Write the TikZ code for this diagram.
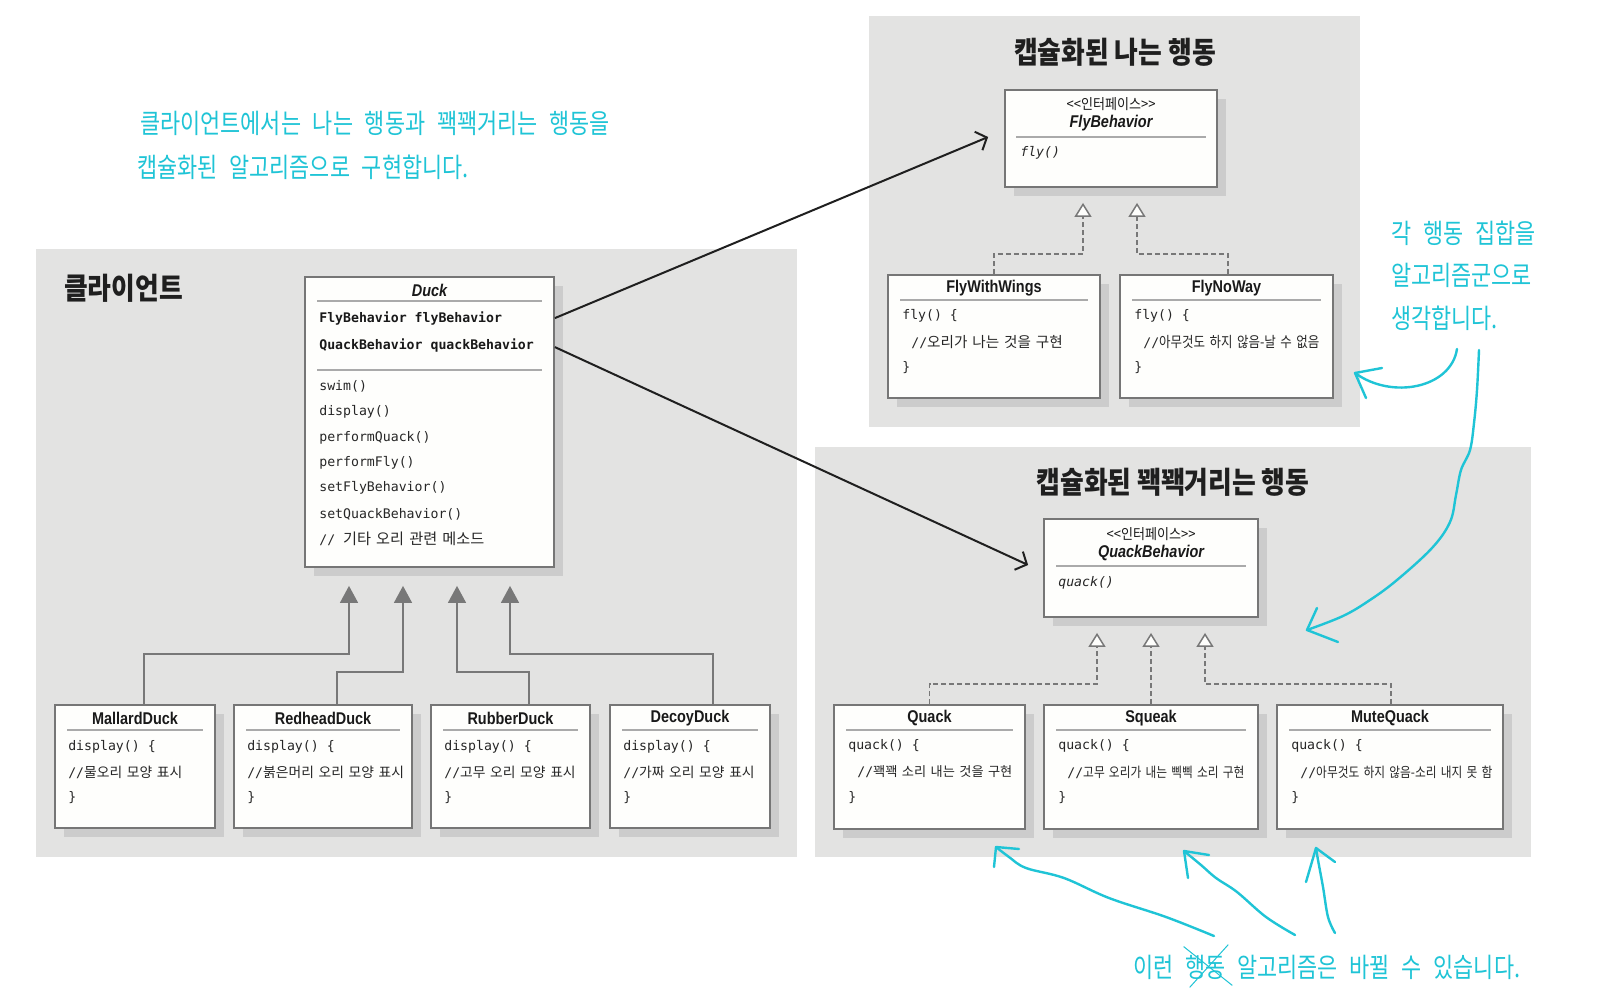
\documentclass[tikz,border=0pt]{standalone}
\usepackage{fontspec}
\usetikzlibrary{arrows.meta,calc,shadows}

\newfontfamily\clsfont[FakeStretch=0.85]{Liberation Sans}
\newfontfamily\codefont{DejaVu Sans Mono}
\newfontfamily\krtitle[FakeStretch=0.86]{Noto Sans CJK KR}
\newfontfamily\krcodew[WordSpace=1.5]{Noto Sans CJK KR}
\newfontfamily\krcodec[FakeStretch=0.85,WordSpace=1.6]{Noto Sans CJK KR}
\newfontfamily\krstereo[FakeStretch=0.9]{Noto Sans CJK KR}
\newfontfamily\handfont[FakeStretch=0.81,WordSpace=2.4]{Noto Sans CJK KR}
\newcommand\kcode[2][13.8]{{\krcodew\fontsize{#1}{16}\selectfont #2}}
\newcommand\kcodec[2][13.8]{{\krcodec\fontsize{#1}{16}\selectfont #2}}

\definecolor{panelgray}{RGB}{227,227,226}
\definecolor{shadowgray}{RGB}{204,204,204}
\definecolor{boxfill}{RGB}{254,254,252}
\definecolor{boxline}{RGB}{118,118,118}
\definecolor{sepcol}{RGB}{170,170,170}
\definecolor{inhline}{RGB}{120,120,120}
\definecolor{annot}{RGB}{31,196,214}

\begin{document}
\begin{tikzpicture}[x=1pt,y=-1pt,
  panel/.style={fill=panelgray,draw=none,inner sep=0},
  ptitle/.style={font=\krtitle\bfseries\fontsize{30}{34}\selectfont,text=black!88,inner sep=0},
  cbox/.style={draw=boxline,line width=1.8pt,fill=boxfill,inner sep=0,
    drop shadow={shadow xshift=9pt,shadow yshift=-9pt,fill=shadowgray,opacity=1}},
  cname/.style={font=\clsfont\bfseries\fontsize{17}{20}\selectfont,text=black!90,inner sep=0},
  iname/.style={font=\clsfont\bfseries\itshape\fontsize{17}{20}\selectfont,text=black!90,inner sep=0},
  codetxt/.style={font=\codefont\fontsize{13.2}{16}\selectfont,text=black!85,inner sep=0,anchor=west},
  codebold/.style={font=\codefont\bfseries\fontsize{13.2}{16}\selectfont,text=black!90,inner sep=0,anchor=west},
  codeital/.style={font=\codefont\itshape\fontsize{13.2}{16}\selectfont,text=black!85,inner sep=0,anchor=west},
  stereo/.style={font=\krstereo\fontsize{14.5}{16}\selectfont,text=black!90,inner sep=0},
  sepl/.style={draw=sepcol,line width=1.5pt},
  inh/.style={draw=inhline,line width=1.5pt,-{Triangle[length=17pt,width=18pt]}},
  realiz/.style={draw=inhline,line width=1.5pt,dash pattern=on 5pt off 3pt,
    -{Triangle[length=14pt,width=17pt,fill=boxfill]}},
  assoc/.style={draw=black!88,line width=2pt,-{Straight Barb[length=9pt,width=20pt]}},
  hand/.style={font=\handfont\fontsize{27}{30}\selectfont,text=annot,inner sep=0},
  annotarrow/.style={draw=annot,line width=2.4pt,line cap=round,line join=round}
]
\fill[white] (0,0) rectangle (1616,1000);
\useasboundingbox (0,0) rectangle (1616,1000);

% panels
\node[panel,minimum width=491pt,minimum height=411pt] (pfly) at (1114.5,221.5) {};
\node[panel,minimum width=761pt,minimum height=608pt] (pclient) at (416.5,553) {};
\node[panel,minimum width=716pt,minimum height=410pt] (pquack) at (1173,652) {};

\node[ptitle] (tfly) at (1115,52) {캡슐화된 나는 행동};
\node[ptitle,anchor=west] (tclient) at (64,288) {클라이언트};
\node[ptitle] (tquack) at (1173,482) {캡슐화된 꽥꽥거리는 행동};

% boxes
\node[cbox,minimum width=249pt,minimum height=290pt] (duck) at (429.5,422) {};
\node[cbox,minimum width=212pt,minimum height=97pt] (flyb) at (1111,138.5) {};
\node[cbox,minimum width=212pt,minimum height=123pt] (fww) at (994,336.5) {};
\node[cbox,minimum width=213pt,minimum height=123pt] (fnw) at (1226.5,336.5) {};
\node[cbox,minimum width=214pt,minimum height=98pt] (qb) at (1151,568) {};
\node[cbox,minimum width=191pt,minimum height=124pt] (qk) at (929.5,767) {};
\node[cbox,minimum width=214pt,minimum height=124pt] (sq) at (1151,767) {};
\node[cbox,minimum width=226pt,minimum height=124pt] (mq) at (1390,767) {};
\node[cbox,minimum width=160pt,minimum height=123pt] (mal) at (135,766.5) {};
\node[cbox,minimum width=178pt,minimum height=123pt] (red) at (323,766.5) {};
\node[cbox,minimum width=159pt,minimum height=123pt] (rub) at (510.5,766.5) {};
\node[cbox,minimum width=160pt,minimum height=123pt] (dec) at (690,766.5) {};

% Duck
\node[iname] (duckn) at ($(duck.north)+(0,14)$) {Duck};
\draw[sepl] ($(duck.north west)+(13,25)$) -- ($(duck.north east)+(-13,25)$);
\node[codebold] (df1) at ($(duck.north west)+(15,42)$) {FlyBehavior flyBehavior};
\node[codebold] (df2) at ($(duck.north west)+(15,69)$) {QuackBehavior quackBehavior};
\draw[sepl] ($(duck.north west)+(13,94)$) -- ($(duck.north east)+(-13,94)$);
\node[codetxt] (dm1) at ($(duck.north west)+(15,110)$) {swim()};
\node[codetxt] (dm2) at ($(duck.north west)+(15,136)$) {display()};
\node[codetxt] (dm3) at ($(duck.north west)+(15,162)$) {performQuack()};
\node[codetxt] (dm4) at ($(duck.north west)+(15,187)$) {performFly()};
\node[codetxt] (dm5) at ($(duck.north west)+(15,212)$) {setFlyBehavior()};
\node[codetxt] (dm6) at ($(duck.north west)+(15,238)$) {setQuackBehavior()};
\node[codetxt] (dm7) at ($(duck.north west)+(15,263)$) {// \kcode[15.2]{기타 오리 관련 메소드}};

% Duck subclasses
\foreach \b/\n/\c in {mal/MallardDuck/물오리 모양 표시,red/RedheadDuck/붉은머리 오리 모양 표시,rub/RubberDuck/고무 오리 모양 표시,dec/DecoyDuck/가짜 오리 모양 표시}{
  \node[cname] (\b n) at ($(\b.north)+(0,14)$) {\n};
  \draw[sepl] ($(\b.north west)+(13,26)$) -- ($(\b.north east)+(-13,26)$);
  \node[codetxt] (\b c1) at ($(\b.north west)+(14,43)$) {display() \{};
  \node[codetxt] (\b c2) at ($(\b.north west)+(14,68)$) {//\kcode{\c}};
  \node[codetxt] (\b c3) at ($(\b.north west)+(14,93)$) {\}};
}

% FlyBehavior
\node[stereo] (flybs) at ($(flyb.north)+(0,15)$) {<<인터페이스>>};
\node[iname] (flybn) at ($(flyb.north)+(0,34)$) {FlyBehavior};
\draw[sepl] ($(flyb.north west)+(12,48)$) -- ($(flyb.north east)+(-12,48)$);
\node[codeital] (flybm) at ($(flyb.north west)+(16,64)$) {fly()};

\foreach \b/\n/\c in {fww/FlyWithWings/{\kcode[14.6]{오리가 나는 것을 구현}},fnw/FlyNoWay/{\kcodec[14.7]{아무것도 하지 않음-날 수 없음}}}{
  \node[cname] (\b n) at ($(\b.north)+(0,14)$) {\n};
  \draw[sepl] ($(\b.north west)+(13,26)$) -- ($(\b.north east)+(-13,26)$);
  \node[codetxt] (\b c1) at ($(\b.north west)+(15,42)$) {fly() \{};
  \node[codetxt] (\b c2) at ($(\b.north west)+(24,68)$) {//\c};
  \node[codetxt] (\b c3) at ($(\b.north west)+(15,93)$) {\}};
}

% QuackBehavior
\node[stereo] (qbs) at ($(qb.north)+(0,16)$) {<<인터페이스>>};
\node[iname] (qbn) at ($(qb.north)+(0,35)$) {QuackBehavior};
\draw[sepl] ($(qb.north west)+(13,48)$) -- ($(qb.north east)+(-13,48)$);
\node[codeital] (qbm) at ($(qb.north west)+(15,65)$) {quack()};

\foreach \b/\n/\c in {qk/Quack/{\kcode[13.2]{꽥꽥 소리 내는 것을 구현}},sq/Squeak/{\kcodec{고무 오리가 내는 삑삑 소리 구현}},mq/MuteQuack/{\kcodec{아무것도 하지 않음-소리 내지 못 함}}}{
  \node[cname] (\b n) at ($(\b.north)+(0,14)$) {\n};
  \draw[sepl] ($(\b.north west)+(13,26)$) -- ($(\b.north east)+(-13,26)$);
  \node[codetxt] (\b c1) at ($(\b.north west)+(15,42)$) {quack() \{};
  \node[codetxt] (\b c2) at ($(\b.north west)+(24,68)$) {//\c};
  \node[codetxt] (\b c3) at ($(\b.north west)+(15,93)$) {\}};
}

% inheritance
\draw[inh] ($(mal.north)+(9,0)$) |- ($(duck.south)+(-80.5,86)$) -- ($(duck.south)+(-80.5,18)$);
\draw[inh] ($(red.north)+(14,0)$) |- ($(duck.south)+(-26.5,104)$) -- ($(duck.south)+(-26.5,18)$);
\draw[inh] ($(rub.north)+(18.5,0)$) |- ($(duck.south)+(27.5,104)$) -- ($(duck.south)+(27.5,18)$);
\draw[inh] ($(dec.north)+(23,0)$) |- ($(duck.south)+(80.5,86)$) -- ($(duck.south)+(80.5,18)$);

% realization
\draw[realiz] (fww.north) |- ($(flyb.south)+(-28,66)$) -- ($(flyb.south)+(-28,15)$);
\draw[realiz] ($(fnw.north)+(1.5,0)$) |- ($(flyb.south)+(26,66)$) -- ($(flyb.south)+(26,15)$);
\draw[realiz] (qk.north) |- ($(qb.south)+(-54,66)$) -- ($(qb.south)+(-54,15)$);
\draw[realiz] (sq.north) -- ($(qb.south)+(0,15)$);
\draw[realiz] ($(mq.north)+(1,0)$) |- ($(qb.south)+(54,66)$) -- ($(qb.south)+(54,15)$);

% associations
\draw[assoc] ($(duck.north east)+(0,42)$) -- ($(flyb.west)+(-16,-1.5)$);
\draw[assoc] ($(duck.north east)+(0,71)$) -- ($(qb.west)+(-15,-3)$);

% annotations
\node[hand,anchor=west] (c1) at (140,123) {클라이언트에서는 나는 행동과 꽥꽥거리는 행동을};
\node[hand,anchor=west] (c2) at (137,167) {캡슐화된 알고리즘으로 구현합니다.};
\node[hand,anchor=west] (r1) at (1391,233) {각 행동 집합을};
\node[hand,anchor=west] (r2) at (1391,275) {알고리즘군으로};
\node[hand,anchor=west] (r3) at (1391,318) {생각합니다.};
\node[hand,anchor=west] (b1) at (1133,967) {이런};
\node[hand,anchor=west] (b2) at ($(b1.east)+(12,0)$) {행동};
\node[hand,anchor=west] (b3) at ($(b2.east)+(11,0)$) {알고리즘은 바뀔 수 있습니다.};
\draw[draw=annot,line width=1pt] ($(b2.north west)+(-2,-8)$) -- ($(b2.south east)+(6,6)$);
\draw[draw=annot,line width=1pt] ($(b2.north east)+(2,-10)$) -- ($(b2.south west)+(4,8)$);

% annotation arrows
\coordinate (a1s) at (1457,349);
\coordinate (a1t) at (1355,373);
\draw[annotarrow] (a1s) .. controls (1451,388) and (1392,400) .. (a1t);
\draw[annotarrow] ($(a1t)+(27,-5)$) -- (a1t) -- ($(a1t)+(11,25)$);

\coordinate (a2t) at (1307,630);
\draw[annotarrow] plot[smooth,tension=0.6] coordinates {(1479,350) (1477,390) (1474,423) (1470,450) (1461,470) (1456,495) (1450,522) (1432,548) (1397,580) (1370,600) (1343,616) (1307,630)};
\draw[annotarrow] ($(a2t)+(10,-22)$) -- (a2t) -- ($(a2t)+(31,12)$);

\coordinate (a3t) at (996,847);
\draw[annotarrow] plot[smooth,tension=0.6] coordinates {(1214,936) (1166,917) (1109,898) (1064,878) (1026,868) (1009,857) (996,847)};
\draw[annotarrow] ($(a3t)+(23,2)$) -- (a3t) -- ($(a3t)+(-2,20)$);

\coordinate (a4t) at (1184,851);
\draw[annotarrow] plot[smooth,tension=0.6] coordinates {(1295,935) (1266,917) (1237,892) (1216,878) (1201,865) (1184,851)};
\draw[annotarrow] ($(a4t)+(25,4)$) -- (a4t) -- ($(a4t)+(4,27)$);

\coordinate (a5t) at (1316,848);
\draw[annotarrow] plot[smooth,tension=0.6] coordinates {(1335,933) (1328,917) (1323,887) (1318,860) (1316,848)};
\draw[annotarrow] ($(a5t)+(19,14)$) -- (a5t) -- ($(a5t)+(-10,34)$);
\end{tikzpicture}
\end{document}
